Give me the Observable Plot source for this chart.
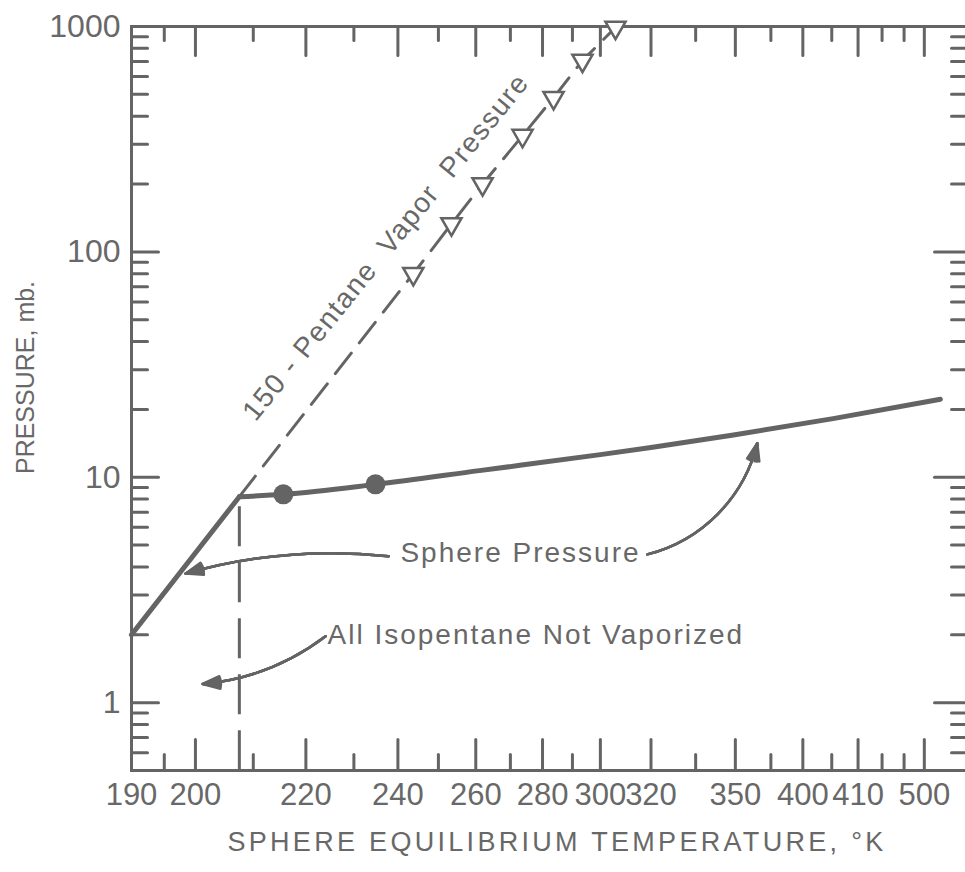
<!DOCTYPE html>
<html>
<head>
<meta charset="utf-8">
<script src="https://cdn.jsdelivr.net/npm/d3@7"></script>
<script src="https://cdn.jsdelivr.net/npm/@observablehq/plot@0.6"></script>
<style>
  html, body { margin: 0; padding: 0; background: #fff; overflow: hidden; }
  #chart svg { display: block; }
</style>
</head>
<body>
<div id="chart"></div>
<script>
// ---------- axis ticks ----------
const xMajorTicks = [190, 200, 220, 240, 260, 280, 300, 320, 360, 400, 440, 500];
const xTickLabels = ["190", "200", "220", "240", "260", "280", "300", "320", "350", "400", "410", "500"];
const xMinorTicks = [195, 210, 230, 250, 270, 290, 340, 380, 420, 460, 480];
const yMajorTicks = [1, 10, 100, 1000];
const yTickLabels = ["1", "10", "100", "1000"];
const yMinorTicks = [0.6, 0.7, 0.8, 0.9, 2, 3, 4, 5, 6, 7, 8, 9, 20, 30, 40, 50, 60, 70, 80, 90,
                     200, 300, 400, 500, 600, 700, 800, 900];
const xTitle = "SPHERE EQUILIBRIUM TEMPERATURE, °K";
const yTitle = "PRESSURE, mb.";

// ---------- series ----------
// rapid rise (solid, below the kink)
const riseTemp = [190, 207.5];
const risePressure = [2.0, 8.2];
// sphere pressure curve (solid)
const sphereTemp = [207.5, 215.6, 234.8, 261, 300, 320, 359, 421, 517];
const spherePressure = [8.2, 8.4, 9.3, 10.7, 12.6, 13.55, 15.4, 18.2, 22.2];
// measured points (filled circles)
const pointTemp = [215.6, 234.8];
const pointPressure = [8.4, 9.3];
// iso-pentane vapor pressure (dashed with open triangles)
const vaporTemp = [207.5, 243.7, 253.4, 261.9, 273.7, 283.6, 293.5, 305.7];
const vaporPressure = [8.2, 80, 133, 200, 328, 483, 706, 990];
const markerTemp = [243.7, 253.4, 261.9, 273.7, 283.6, 293.5, 305.7];
const markerPressure = [80, 133, 200, 328, 483, 706, 990];
// vertical boundary (dashed)
const boundaryTemp = 207.5;
const boundaryPressure = [8.2, 0.5];

// ---------- annotations ----------
const noteText = ["Sphere Pressure", "All Isopentane Not Vaporized"];
const noteTemp = [240.6, 224.4];
const notePressure = [4.6, 2.0];
const vaporLabel = "150 - Pentane  Vapor  Pressure";
const vaporLabelTemp = 237.2;
const vaporLabelPressure = 105;
const arrowFromTemp = [237.8, 318.5, 224.0];
const arrowFromPressure = [4.46, 4.55, 1.97];
const arrowToTemp = [198.4, 372.1, 201.2];
const arrowToPressure = [3.74, 14.16, 1.21];
const arrowBend = [-11, -31, 16];

// ---------- build ----------
const inv = t => 1000 / t;
const ink = "#646464";
const textInk = "#686868";
const zip = (xs, ys) => xs.map((x, i) => ({T: x, P: ys[i]}));
const rise = zip(riseTemp, risePressure);
const sphere = zip(sphereTemp, spherePressure);
const points = zip(pointTemp, pointPressure);
const vapor = zip(vaporTemp, vaporPressure);
const markers = zip(markerTemp, markerPressure);
const notes = noteText.map((s, i) => ({s, T: noteTemp[i], P: notePressure[i]}));

const tickShape = {draw(context, l) { context.moveTo(0, 0); context.lineTo(0, -l); }};
const tickOpts = {shape: tickShape, anchor: "start", stroke: ink, strokeWidth: 3};

// one arrow mark per annotation (bend is a constant option); several head angles fill the head
const arrowMarks = [];
arrowFromTemp.forEach((t, i) => {
  [40, 30, 20, 10].forEach(a => {
    arrowMarks.push(Plot.arrow([i], {
      x1: () => inv(arrowFromTemp[i]), y1: () => arrowFromPressure[i],
      x2: () => inv(arrowToTemp[i]), y2: () => arrowToPressure[i],
      bend: arrowBend[i], stroke: ink, strokeWidth: 2.5, headAngle: a, headLength: 11
    }));
  });
});

const chart = Plot.plot({
  width: 965,
  height: 872,
  marginLeft: 131,
  marginRight: -3,
  marginTop: 26,
  marginBottom: 102,
  style: {fontFamily: "'Liberation Sans', Arial, sans-serif", background: "#fff", color: textInk},
  x: {type: "linear", domain: [inv(190), inv(550)], axis: null},
  y: {type: "log", domain: [0.5, 1000], axis: null},
  marks: [
    // ticks (inward)
    Plot.vector(xMajorTicks, {...tickOpts, x: inv, frameAnchor: "bottom", length: 31, rotate: 0}),
    Plot.vector(xMinorTicks, {...tickOpts, x: inv, frameAnchor: "bottom", length: 16, rotate: 0}),
    Plot.vector(xMajorTicks, {...tickOpts, x: inv, frameAnchor: "top", length: 29, rotate: 180}),
    Plot.vector(xMinorTicks, {...tickOpts, x: inv, frameAnchor: "top", length: 14, rotate: 180}),
    Plot.vector(yMajorTicks, {...tickOpts, y: d => d, frameAnchor: "left", length: 27, rotate: 90}),
    Plot.vector(yMinorTicks, {...tickOpts, y: d => d, frameAnchor: "left", length: 16, rotate: 90}),
    Plot.vector(yMajorTicks, {...tickOpts, y: d => d, frameAnchor: "right", length: 34, rotate: -90}),
    Plot.vector(yMinorTicks, {...tickOpts, y: d => d, frameAnchor: "right", length: 17, rotate: -90}),
    Plot.frame({stroke: ink, strokeWidth: 3}),
    // tick labels
    Plot.text(xMajorTicks, {x: inv, text: (d, i) => xTickLabels[i], frameAnchor: "bottom",
      lineAnchor: "top", dy: 12, fontSize: 31, fill: textInk}),
    Plot.text(yMajorTicks, {y: d => d, text: (d, i) => yTickLabels[i], frameAnchor: "left",
      textAnchor: "end", dx: -11, fontSize: 32, fill: textInk}),
    // axis titles
    Plot.text([xTitle], {text: d => d, frameAnchor: "bottom", dy: 80, dx: 7, fontSize: 27, fill: textInk}),
    Plot.text([yTitle], {text: d => d, frameAnchor: "left", textAnchor: "middle", rotate: -90,
      dx: -106, dy: -21, fontSize: 25, fill: textInk}),
    // boundary
    Plot.ruleX([boundaryTemp], {x: inv, y1: boundaryPressure[0], y2: boundaryPressure[1],
      stroke: ink, strokeWidth: 3, strokeDasharray: "40,16", strokeDashoffset: -10}),
    // vapor pressure
    Plot.line(vapor, {x: d => inv(d.T), y: "P", stroke: ink, strokeWidth: 3, strokeDasharray: "26,13"}),
    Plot.dot(markers, {x: d => inv(d.T), y: "P", symbol: "triangle", rotate: 180, r: 7.5,
      fill: "#fff", stroke: ink, strokeWidth: 2.5}),
    // sphere pressure
    Plot.line(rise, {x: d => inv(d.T), y: "P", stroke: ink, strokeWidth: 5}),
    Plot.line(sphere, {x: d => inv(d.T), y: "P", stroke: ink, strokeWidth: 5, curve: "monotone-x"}),
    Plot.dot(points, {x: d => inv(d.T), y: "P", r: 10, fill: ink}),
    // annotations
    ...arrowMarks,
    Plot.text(notes, {x: d => inv(d.T), y: "P", text: "s", textAnchor: "start", fontSize: 28, fill: textInk}),
    Plot.text([vaporLabel], {x: () => inv(vaporLabelTemp), y: () => vaporLabelPressure, text: d => d,
      rotate: -51, fontSize: 28, fill: textInk})
  ]
});

const spacing = {};
spacing[xTitle] = 3.3;
spacing[noteText[0]] = 2;
spacing[noteText[1]] = 2;
spacing[vaporLabel] = 1.5;
d3.select(chart).selectAll("text").each(function () {
  const s = spacing[this.textContent];
  if (s != null) this.style.letterSpacing = s + "px";
});
document.getElementById("chart").appendChild(chart);
</script>
</body>
</html>
